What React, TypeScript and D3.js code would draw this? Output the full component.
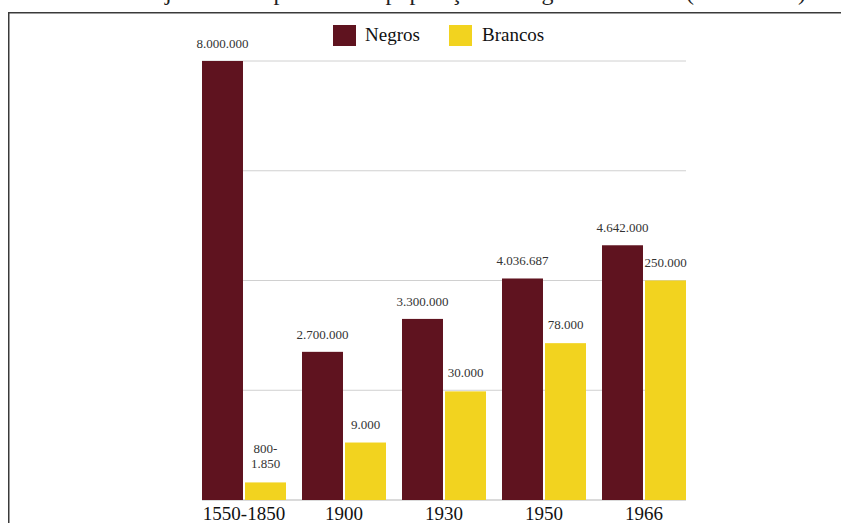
import React from "react";
import * as d3 from "d3";

const categories = ["1550-1850", "1900", "1930", "1950", "1966"];
const series = ["Negros", "Brancos"];
const negros = [8000000, 2700000, 3300000, 4036687, 4642000];
const brancos = [1850, 9000, 30000, 78000, 250000];
const negrosLabels = ["8.000.000", "2.700.000", "3.300.000", "4.036.687", "4.642.000"];
const brancosLabels = [["800-", "1.850"], ["9.000"], ["30.000"], ["78.000"], ["250.000"]];
const gridTicks = [0, 2000000, 4000000, 6000000, 8000000];
const titleText = "Trajetória comparativa da população de negros e brancos (1550-1966)";

const W = 841;
const H = 523;
const COLORS = { Negros: "#5f131f", Brancos: "#f2d31f" };
const SERIF = "Liberation Serif, Times New Roman, serif";

export default function App() {
  const x = d3.scaleBand<string>().domain(categories).range([194, 694]).paddingInner(0.16).paddingOuter(0.08);
  const xi = d3.scaleBand<string>().domain(series).range([0, x.bandwidth()]).paddingInner(0.047);
  const y = d3.scaleLinear().domain([0, 8000000]).range([500, 61]);
  const yB = d3.scaleSymlog().constant(5000).domain([0, 250000]).range([y(0), y(4000000)]);

  const plotLeft = x(categories[0])!;
  const plotRight = x(categories[categories.length - 1])! + x.bandwidth();

  return (
    <svg width={W} height={H} style={{ position: "fixed", left: 0, top: 0, background: "#fff" }}
      fontFamily={SERIF}>
      <rect x={0} y={0} width={W} height={H} fill="#fff" />
      <text x={806} y={-0.5} textAnchor="end" fontSize={24} fill="#222">{titleText}</text>
      <path d={`M8.75,${H} V12.75 H${W}`} fill="none" stroke="#3a3a3a" strokeWidth={1.5} />

      {gridTicks.map((t) => (
        <line key={t} x1={plotLeft} x2={plotRight} y1={y(t)} y2={y(t)}
          stroke={t === 0 ? "#b5b5b5" : "#d0d0d0"} strokeWidth={1} />
      ))}

      {categories.map((c, i) => {
        const gx = x(c)!;
        const nx = gx + xi("Negros")!;
        const bx = gx + xi("Brancos")!;
        const bw = xi.bandwidth();
        const nTop = y(negros[i]);
        const bTop = yB(brancos[i]);
        const lines = brancosLabels[i];
        return (
          <g key={c}>
            <rect x={nx} y={nTop} width={bw} height={y(0) - nTop} fill={COLORS.Negros} />
            <rect x={bx} y={bTop} width={bw} height={y(0) - bTop} fill={COLORS.Brancos} />
            <text x={nx + bw / 2} y={nTop - 13} textAnchor="middle" fontSize={13} fill="#333"
              fontFamily={SERIF}>{negrosLabels[i]}</text>
            {lines.map((ln, j) => (
              <text key={j} x={bx + bw / 2} y={bTop - 14 - (lines.length - 1 - j) * 15}
                textAnchor="middle" fontSize={13} fill="#333" fontFamily={SERIF}>{ln}</text>
            ))}
            <text x={gx + x.bandwidth() / 2} y={520} textAnchor="middle" fontSize={19} fill="#111"
              fontFamily={SERIF}>{c}</text>
          </g>
        );
      })}

      <g fontFamily={SERIF}>
        <rect x={333} y={25} width={23} height={21} fill={COLORS.Negros} />
        <text x={365} y={41} fontSize={19} fill="#111">Negros</text>
        <rect x={449} y={25} width={23} height={21} fill={COLORS.Brancos} />
        <text x={482} y={41} fontSize={19} fill="#111">Brancos</text>
      </g>
    </svg>
  );
}
